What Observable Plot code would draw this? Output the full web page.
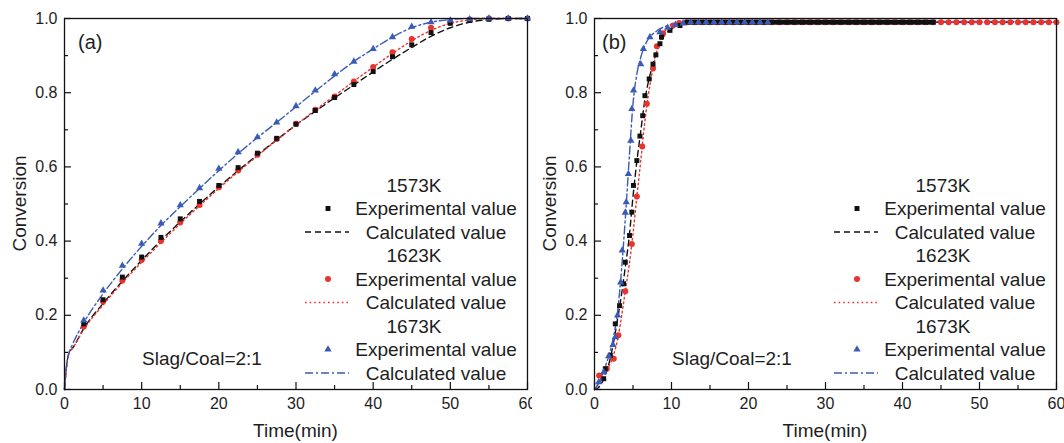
<!DOCTYPE html>
<html><head><meta charset="utf-8">
<script src="https://cdn.jsdelivr.net/npm/d3@7"></script>
<script src="https://cdn.jsdelivr.net/npm/@observablehq/plot@0.6"></script>
<style>
body{margin:0;background:#fff;}
#wrap{display:flex;width:1064px;height:443px;overflow:hidden;}
</style></head><body><div id="wrap"></div>
<script>
// ---------- tick labels ----------
const xMajor = [0,10,20,30,40,50,60];
const xMinor = [5,15,25,35,45,55];
const yMajor = [0,0.2,0.4,0.6,0.8,1.0];
const yMinor = [0.1,0.3,0.5,0.7,0.9];
const seriesNames = ["1573K","1623K","1673K"];

// ---------- panel (a) ----------
const tExpA = [2.5,5,7.5,10,12.5,15,17.5,20,22.5,25,27.5,30,32.5,35,37.5,40,42.5,45,47.5,50,52.5,55,57.5,60];
const expA_1573 = [0.177,0.242,0.303,0.357,0.41,0.46,0.507,0.55,0.598,0.637,0.677,0.715,0.752,0.787,0.822,0.857,0.897,0.929,0.962,0.987,0.995,0.998,1.0,1.0];
const expA_1623 = [0.17,0.237,0.294,0.349,0.4,0.45,0.497,0.545,0.59,0.633,0.675,0.716,0.754,0.79,0.83,0.869,0.909,0.945,0.975,0.99,0.997,1.0,1.0,1.0];
const expA_1673 = [0.186,0.267,0.334,0.393,0.448,0.497,0.543,0.595,0.64,0.68,0.72,0.764,0.806,0.85,0.884,0.918,0.95,0.978,0.99,0.995,0.998,1.0,1.0,1.0];
const tCalcA = [0,0.25,0.6,1,2.5,5,7.5,10,12.5,15,17.5,20,22.5,25,27.5,30,32.5,35,37.5,40,42.5,45,47.5,50,52.5,55,57.5,60];
const calcA_1573 = [0,0.06,0.1,0.11,0.165,0.232,0.292,0.348,0.402,0.452,0.5,0.546,0.59,0.632,0.673,0.713,0.75,0.786,0.821,0.856,0.89,0.922,0.952,0.975,0.99,0.997,1.0,1.0];
const calcA_1623 = [0,0.06,0.1,0.11,0.162,0.228,0.288,0.343,0.396,0.447,0.495,0.542,0.587,0.63,0.672,0.713,0.753,0.792,0.831,0.869,0.906,0.94,0.968,0.987,0.996,1.0,1.0,1.0];
const calcA_1673 = [0,0.06,0.1,0.12,0.18,0.258,0.325,0.386,0.442,0.493,0.542,0.59,0.636,0.679,0.72,0.762,0.804,0.845,0.884,0.918,0.95,0.975,0.99,0.997,1.0,1.0,1.0,1.0];

// ---------- panel (b) ----------
const tExpB_1573 = [1.2,1.4,2.06,2.7,3.26,3.77,4.0,4.55,4.85,5.06,5.5,5.9,6.26,6.55,7.1,7.6,7.97,8.5,8.7,9.8,11.1,
  12,12.5,13,13.5,14, 14.5,15,15.5,16,16.5, 17,17.5,18,18.5,19, 19.5,20,20.5,21,21.5, 22,22.5,23,23.5,24,
  24.5,25,25.5,26,26.5, 27,27.5,28,28.5,29, 29.5,30,30.5,31,31.5, 32,32.5,33,33.5,34, 34.5,35,35.5,36,36.5,
  37,37.5,38,38.5,39, 39.5,40,40.5,41,41.5, 42,42.5,43,43.5,44];
const expB_1573 = [0.029,0.056,0.092,0.177,0.226,0.285,0.343,0.415,0.478,0.55,0.617,0.683,0.738,0.792,0.837,0.877,0.902,0.932,0.95,0.968,0.981,
  0.99,0.99,0.99,0.99,0.99, 0.99,0.99,0.99,0.99,0.99, 0.99,0.99,0.99,0.99,0.99, 0.99,0.99,0.99,0.99,0.99, 0.99,0.99,0.99,0.99,0.99,
  0.99,0.99,0.99,0.99,0.99, 0.99,0.99,0.99,0.99,0.99, 0.99,0.99,0.99,0.99,0.99, 0.99,0.99,0.99,0.99,0.99, 0.99,0.99,0.99,0.99,0.99,
  0.99,0.99,0.99,0.99,0.99, 0.99,0.99,0.99,0.99,0.99, 0.99,0.99,0.99,0.99,0.99];
const tExpB_1623 = [0.6,1.6,2.5,3.1,4.0,4.85,5.5,6.2,6.8,7.6,8.1,8.9,10.2,11,12,13,14,15,16,17,18,19,20,21,22,23,24,25,26,27,28,29,30,31,32,33,34,35,36,37,38,39,40,41,42,43,44,45,46,47,48,49,50,51,52,53,54,55,56,57,58,59,60];
const expB_1623 = [0.038,0.056,0.083,0.146,0.265,0.392,0.52,0.655,0.77,0.865,0.925,0.96,0.981,0.988,0.99,0.99,0.99,0.99,0.99,0.99,0.99,0.99,0.99,0.99,0.99,0.99,0.99,0.99,0.99,0.99,0.99,0.99,0.99,0.99,0.99,0.99,0.99,0.99,0.99,0.99,0.99,0.99,0.99,0.99,0.99,0.99,0.99,0.99,0.99,0.99,0.99,0.99,0.99,0.99,0.99,0.99,0.99,0.99,0.99,0.99,0.99,0.99,0.99];
const tExpB_1673 = [0.55,1.2,1.84,2.4,2.7,3.0,3.4,3.6,4.0,4.12,4.4,4.72,4.85,5.07,6.0,6.35,7.2,8.5,9.5,10.5,11.5,12.5,13.5,14.5,15.5,16.5,17.5,18.5,19.5,20.5,21.5,22.5];
const expB_1673 = [0.02,0.047,0.09,0.12,0.141,0.2,0.289,0.375,0.477,0.505,0.581,0.671,0.756,0.806,0.877,0.918,0.95,0.963,0.975,0.983,0.987,0.99,0.99,0.99,0.99,0.99,0.99,0.99,0.99,0.99,0.99,0.99];
const tCalcB = [0,0.5,1,1.5,2,2.5,3,3.5,4,4.5,5,5.5,6,6.5,7,7.5,8,8.5,9,10,11,12,14,60];
const calcB_1573 = [0,0.005,0.02,0.045,0.08,0.13,0.19,0.255,0.33,0.41,0.52,0.615,0.695,0.775,0.83,0.87,0.905,0.932,0.952,0.972,0.982,0.988,0.99,0.99];
const calcB_1623 = [0,0.015,0.03,0.05,0.068,0.095,0.135,0.195,0.265,0.335,0.42,0.52,0.615,0.715,0.795,0.855,0.905,0.94,0.962,0.978,0.986,0.99,0.99,0.99];
const calcB_1673 = [0,0.015,0.04,0.068,0.1,0.145,0.21,0.32,0.46,0.62,0.77,0.85,0.895,0.925,0.945,0.957,0.965,0.972,0.977,0.984,0.988,0.99,0.992,0.992];

// ---------- styles ----------
const FONT = "'Liberation Sans', Arial, Helvetica, sans-serif";
const TEXT = "#1e1e1e";
const styles = [
  {color:"#111111", symbol:"square",   r:2.8, dash:"6,4"},
  {color:"#e8332e", symbol:"circle",   r:3.0, dash:"1.6,3"},
  {color:"#3b5bb8", symbol:"triangle", r:2.7, dash:"8,3,2,3"}
];
const dotOrder = [1, 0, 2]; // draw red first, then black, then blue

function zip(ts, vs){ return ts.map((t,i)=>({t, v: vs[i]})); }

function makePanel({tag, ml, mr, tagDx, exp, calc}) {
  const W = 532, H = 443, mt = 18, mb = 54;
  const iw = W - ml - mr, ih = H - mt - mb;
  const marks = [
    Plot.ruleX(xMajor, {insetTop: ih - 7, stroke: "#111", strokeWidth: 1.2}),
    Plot.ruleX(xMinor, {insetTop: ih - 4, stroke: "#111", strokeWidth: 1.2}),
    Plot.ruleY(yMajor, {insetRight: iw - 7, stroke: "#111", strokeWidth: 1.2}),
    Plot.ruleY(yMinor, {insetRight: iw - 4, stroke: "#111", strokeWidth: 1.2}),
    Plot.axisX(xMajor, {tickSize: 0, tickPadding: 8, label: null, fontSize: 16, fill: TEXT}),
    Plot.axisY(yMajor, {tickSize: 0, tickPadding: 7, label: null, fontSize: 16, fill: TEXT, tickFormat: d3.format(".1f")})
  ];
  calc.forEach((s, i) => {
    marks.push(Plot.line(s, {x: "t", y: "v", stroke: styles[i].color, strokeWidth: 1.4,
      strokeDasharray: styles[i].dash, curve: "monotone-x"}));
  });
  dotOrder.forEach(i => {
    marks.push(Plot.dot(exp[i], {x: "t", y: "v", symbol: styles[i].symbol, r: styles[i].r,
      fill: styles[i].color, stroke: "none"}));
  });
  marks.push(Plot.frame({stroke: "#111", strokeWidth: 1.3}));
  const svg = Plot.plot({
    width: W, height: H, marginLeft: ml, marginRight: mr, marginTop: mt, marginBottom: mb,
    x: {domain: [0, 60]}, y: {domain: [0, 1]},
    style: {fontFamily: FONT, background: "#fff", color: TEXT, overflow: "visible"},
    marks
  });
  const g = d3.select(svg).append("g").attr("font-family", FONT).attr("fill", TEXT)
    .attr("text-anchor", "start");
  const R = W - mr;
  // axis titles
  g.append("text").attr("transform", `translate(${ml - 44.5},${mt + ih/2}) rotate(-90)`)
    .attr("text-anchor", "middle").attr("dy", "0.35em").attr("font-size", 19).text("Conversion");
  g.append("text").attr("x", ml + iw/2).attr("y", 430).attr("text-anchor", "middle")
    .attr("dy", "0.35em").attr("font-size", 19).text("Time(min)");
  // panel tag and note
  g.append("text").attr("x", ml + tagDx).attr("y", 42).attr("dy", "0.35em")
    .attr("text-anchor", "start").attr("font-size", 20).text(tag);
  g.append("text").attr("x", ml + 78).attr("y", 358).attr("dy", "0.35em")
    .attr("text-anchor", "start").attr("font-size", 19).text("Slag/Coal=2:1");
  // legend
  const rowY = i => 185 + i * 23.5;
  seriesNames.forEach((name, k) => {
    const st = styles[k];
    const y0 = rowY(k*3), y1 = rowY(k*3+1), y2 = rowY(k*3+2);
    g.append("text").attr("x", R - 113).attr("y", y0).attr("dy", "0.35em")
      .attr("text-anchor", "middle").attr("font-size", 19).text(name);
    const sym = {square: d3.symbolSquare, circle: d3.symbolCircle, triangle: d3.symbolTriangle}[st.symbol];
    g.append("path").attr("transform", `translate(${R - 199},${y1})`)
      .attr("d", d3.symbol(sym, Math.PI * st.r * st.r)()).attr("fill", st.color);
    g.append("text").attr("x", R - 91).attr("y", y1).attr("dy", "0.35em")
      .attr("text-anchor", "middle").attr("font-size", 19).text("Experimental value");
    g.append("line").attr("x1", R - 222).attr("x2", R - 178).attr("y1", y2).attr("y2", y2)
      .attr("stroke", st.color).attr("stroke-width", 1.4).attr("stroke-dasharray", st.dash);
    g.append("text").attr("x", R - 91).attr("y", y2).attr("dy", "0.35em")
      .attr("text-anchor", "middle").attr("font-size", 19).text("Calculated value");
  });
  return svg;
}

const wrap = document.getElementById("wrap");
wrap.appendChild(makePanel({
  tag: "(a)", ml: 64, mr: 5, tagDx: 14,
  exp: [zip(tExpA, expA_1573), zip(tExpA, expA_1623), zip(tExpA, expA_1673)],
  calc: [zip(tCalcA, calcA_1573), zip(tCalcA, calcA_1623), zip(tCalcA, calcA_1673)]
}));
wrap.appendChild(makePanel({
  tag: "(b)", ml: 62, mr: 8, tagDx: 8,
  exp: [zip(tExpB_1573, expB_1573), zip(tExpB_1623, expB_1623), zip(tExpB_1673, expB_1673)],
  calc: [zip(tCalcB, calcB_1573), zip(tCalcB, calcB_1623), zip(tCalcB, calcB_1673)]
}));
</script>
</body></html>
